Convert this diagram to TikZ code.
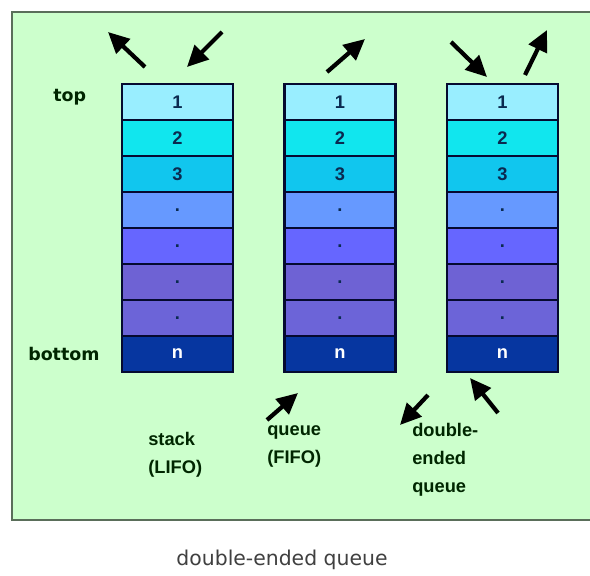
\documentclass[tikz,border=0pt]{standalone}
\usepackage{fontspec}
\setmainfont{Liberation Sans}
\newfontfamily\widefont{DejaVu Sans}
\usetikzlibrary{arrows.meta, positioning}

\definecolor{panelfill}{HTML}{CCFFCC}
\definecolor{panelline}{HTML}{5A6E5A}
\definecolor{cellline}{HTML}{050A30}
\definecolor{rowA}{HTML}{99EEFF}
\definecolor{rowB}{HTML}{11E6EE}
\definecolor{rowC}{HTML}{11C6EE}
\definecolor{rowD}{HTML}{6699FF}
\definecolor{rowE}{HTML}{6666FF}
\definecolor{rowF}{HTML}{6E62D4}
\definecolor{rowG}{HTML}{6C64D8}
\definecolor{rowH}{HTML}{0636A0}
\definecolor{numtext}{HTML}{0A2A50}

\begin{document}
\begin{tikzpicture}[
		x=0.025cm, y=-0.025cm,
		node distance=0pt,
		flow/.style={line width=3pt, -{Triangle[length=15pt, width=14pt]}}
	]
	\tikzstyle{cell} = [ %one slot of a column
		draw=cellline,
		line width=2pt,
		minimum width=2.775cm,
		minimum height=0.9cm,
		inner sep=0pt, outer sep=0pt,
		text=numtext,
		font=\bfseries\fontsize{13}{13}\selectfont
	]
	\tikzstyle{side} = [
		inner sep=0pt,
		text=black!85!green,
		font=\widefont\bfseries\fontsize{12.4}{14}\selectfont
	]
	\tikzstyle{kind} = [
		inner sep=0pt, anchor=north west, align=left,
		text=black!85!green,
		font=\bfseries\fontsize{13}{20}\selectfont
	]

	\useasboundingbox (0,0) rectangle (590,576);
	\draw[panelline, fill=panelfill, line width=1.6pt] (12,12) rectangle (600,520);

	% stack
	\node (a1) [cell, fill=rowA] at (177.5,102) {1};
	\node (a2) [cell, fill=rowB, below=of a1] {2};
	\node (a3) [cell, fill=rowC, below=of a2] {3};
	\node (a4) [cell, fill=rowD, below=of a3] {.};
	\node (a5) [cell, fill=rowE, below=of a4] {.};
	\node (a6) [cell, fill=rowF, below=of a5] {.};
	\node (a7) [cell, fill=rowG, below=of a6] {.};
	\node (a8) [cell, fill=rowH, below=of a7, text=white] {n};

	% queue
	\node (b1) [cell, fill=rowA] at (340,102) {1};
	\node (b2) [cell, fill=rowB, below=of b1] {2};
	\node (b3) [cell, fill=rowC, below=of b2] {3};
	\node (b4) [cell, fill=rowD, below=of b3] {.};
	\node (b5) [cell, fill=rowE, below=of b4] {.};
	\node (b6) [cell, fill=rowF, below=of b5] {.};
	\node (b7) [cell, fill=rowG, below=of b6] {.};
	\node (b8) [cell, fill=rowH, below=of b7, text=white] {n};

	% deque
	\node (c1) [cell, fill=rowA] at (502.5,102) {1};
	\node (c2) [cell, fill=rowB, below=of c1] {2};
	\node (c3) [cell, fill=rowC, below=of c2] {3};
	\node (c4) [cell, fill=rowD, below=of c3] {.};
	\node (c5) [cell, fill=rowE, below=of c4] {.};
	\node (c6) [cell, fill=rowF, below=of c5] {.};
	\node (c7) [cell, fill=rowG, below=of c6] {.};
	\node (c8) [cell, fill=rowH, below=of c7, text=white] {n};

	\node (top) [side, anchor=base west] at (53,102) {top};
	\node (bot) [side, anchor=base west] at (28,360) {bottom};

	\node (lifo) [kind] at (148,432) {stack\\(LIFO)};
	\node (fifo) [kind] at (267,425) {queue\\(FIFO)};
	\node (deq) [kind] at (412,423) {double-\\ended\\queue};

	\node (caption) [text=black!75, font=\widefont\fontsize{14.5}{16}\selectfont, anchor=base] at (282,565) {double-ended queue};

	% arrow ends
	\coordinate (pop1) at (145,67);   \coordinate (pop2) at (108,32);
	\coordinate (push1) at (222,32);  \coordinate (push2) at (187,67);
	\coordinate (deq1) at (327,72);   \coordinate (deq2) at (365,39);
	\coordinate (enq1) at (267,420);  \coordinate (enq2) at (298,393);
	\coordinate (tin1) at (451,42);   \coordinate (tin2) at (487,77);
	\coordinate (tout1) at (525,75);  \coordinate (tout2) at (547,30);
	\coordinate (bout1) at (428,395); \coordinate (bout2) at (400,425);
	\coordinate (bin1) at (498,413);  \coordinate (bin2) at (470,378);

	\draw[flow] (pop1) -- (pop2);
	\draw[flow] (push1) -- (push2);
	\draw[flow] (deq1) -- (deq2);
	\draw[flow] (enq1) -- (enq2);
	\draw[flow] (tin1) -- (tin2);
	\draw[flow] (tout1) -- (tout2);
	\draw[flow] (bout1) -- (bout2);
	\draw[flow] (bin1) -- (bin2);
\end{tikzpicture}
\end{document}
